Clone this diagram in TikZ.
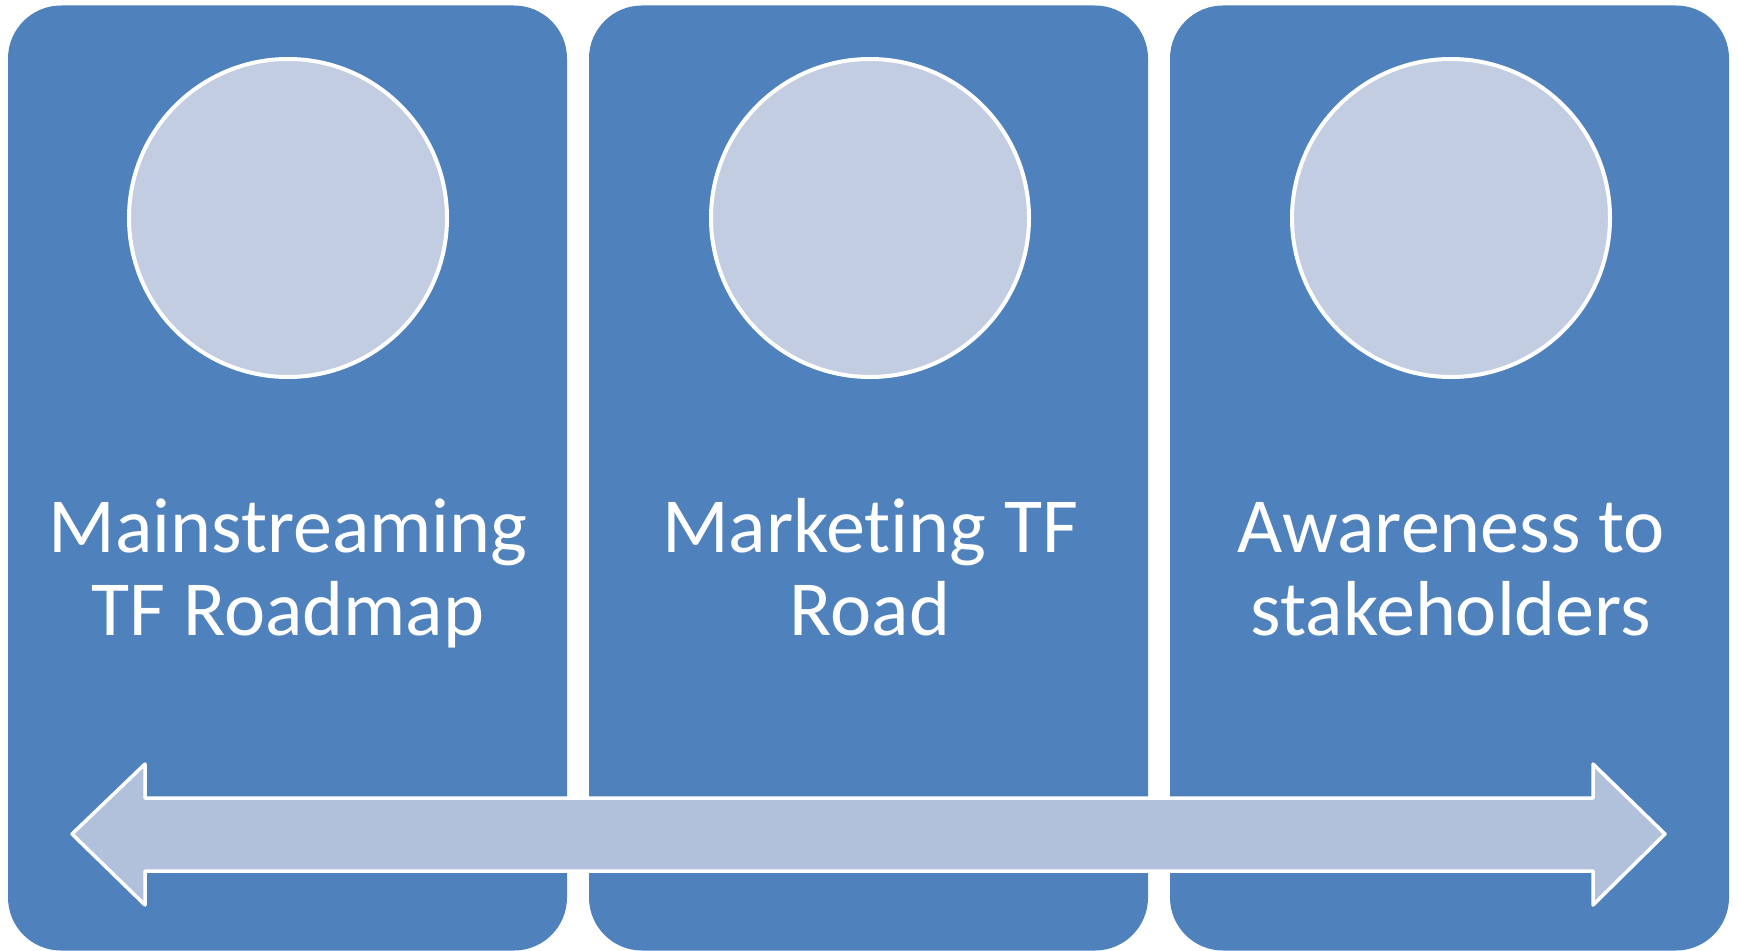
\documentclass[tikz,border=0pt]{standalone}
\usepackage{fontspec}
\setmainfont[Ligatures={NoCommon}]{Carlito}
\definecolor{panelblue}{HTML}{4F81BD}
\definecolor{circfill}{HTML}{C2CDE1}
\definecolor{arrowfill}{HTML}{B2C1DB}
\begin{document}
\begin{tikzpicture}[x=1pt,y=-1pt,
  panel/.style={fill=panelblue, draw=none, rounded corners=53pt, minimum width=559pt, minimum height=945pt, inner sep=0pt, outer sep=0pt},
  disc/.style={circle, fill=circfill, draw=white, line width=4pt, minimum size=318pt, inner sep=0pt},
  label/.style={text=white, align=center, font=\fontsize{78}{83}\selectfont, inner sep=0pt, anchor=base},
  dblarrow/.style={fill=arrowfill, draw=white, line width=3.5pt, line join=round}
]
\useasboundingbox (0,0) rectangle (1739,950);
\node[panel] (p1) at (287.5,478) {};
\node[panel] (p2) at (868.5,478) {};
\node[panel] (p3) at (1449.5,478) {};
\node[disc] (c1) at (288,218) {};
\node[disc] (c2) at (870,218) {};
\node[disc] (c3) at (1451,218) {};
\node[label] (t1) at (288,635) {Mainstreaming\\TF Roadmap};
\node[label] (t2) at (870,635) {Marketing TF\\Road};
\node[label] (t3) at (1451,635) {Awareness to\\stakeholders};
\draw[dblarrow] (72,834) -- (145,764) -- (145,798) -- (1593,798) -- (1593,764) -- (1665,834)
  -- (1593,905) -- (1593,871) -- (145,871) -- (145,905) -- cycle;
\end{tikzpicture}
\end{document}
